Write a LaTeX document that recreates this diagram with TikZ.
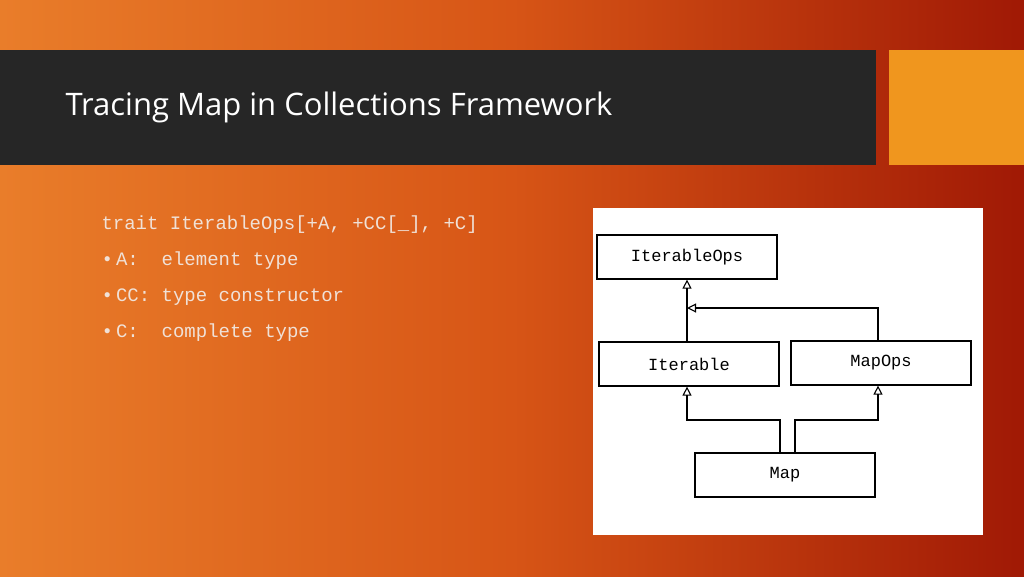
\documentclass[tikz,border=0pt]{standalone}
\usepackage{fontspec}
\setmainfont{Open Sans}
\setmonofont{Liberation Mono}
\usetikzlibrary{arrows.meta}
\definecolor{bar}{RGB}{38,38,38}
\definecolor{sq}{RGB}{240,150,30}
\definecolor{txt}{RGB}{240,225,215}
\begin{document}
\begin{tikzpicture}[x=1pt,y=-1pt,
  cls/.style={draw=black,line width=1.2pt,fill=white,minimum width=180pt,minimum height=44pt,font=\ttfamily\fontsize{17}{20}\selectfont},
  inh/.style={line width=1.1pt,-{Triangle[open,length=9pt,width=9pt]}},
  body/.style={anchor=base west,text=txt,font=\ttfamily\fontsize{19}{22}\selectfont}]
\useasboundingbox (0,0) rectangle (1024,576);
\shade[shading=axis,shading angle=125,left color={rgb,255:red,233;green,125;blue,42},right color={rgb,255:red,160;green,25;blue,5},middle color={rgb,255:red,215;green,85;blue,22}] (0,0) rectangle (1024,576);
\fill[bar] (0,50) rectangle (876,165);
\fill[sq] (889,50) rectangle (1024,165);
\node[anchor=west,text=white,font=\fontsize{31}{36}\selectfont] (title) at (62,107) {Tracing Map in Collections Framework};
\node[body] (l1) at (98,229) {trait IterableOps[+A, +CC[\_], +C]};
\node[body] (l2) at (98,265) {\textbullet\,A:\ \ element type};
\node[body] (l3) at (98,301) {\textbullet\,CC: type constructor};
\node[body] (l4) at (98,337) {\textbullet\,C:\ \ complete type};
\fill[white] (593,208) rectangle (983,535);
\node[cls] (io) at (687,257) {IterableOps};
\node[cls] (it) at (689,364) {Iterable};
\node[cls] (mo) at (881,363) {MapOps};
\node[cls] (mp) at (785,475) {Map};
\coordinate (c0) at (687,0);
\draw[inh] (it.north -| c0) -- (io.south -| c0);
\coordinate (j1) at (878,308);
\draw[inh] (mo.north -| j1) -- (j1) -- (j1 -| c0);
\coordinate (j2) at (780,420);
\draw[inh] (mp.north -| j2) -- (j2) -- (j2 -| c0) -- (it.south -| c0);
\coordinate (j3) at (795,420);
\draw[inh] (mp.north -| j3) -- (j3) -- (j3 -| j1) -- (mo.south -| j1);
\end{tikzpicture}
\end{document}
